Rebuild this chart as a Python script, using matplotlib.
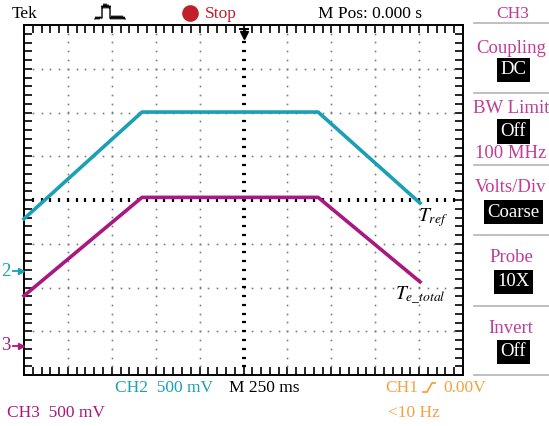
import numpy as np
import matplotlib.pyplot as plt
from matplotlib.lines import Line2D
from matplotlib.ticker import MultipleLocator

plt.rcParams['font.family'] = ['Liberation Serif', 'DejaVu Serif']
plt.rcParams['mathtext.fontset'] = 'stix'

W, H = 549, 426

MS_PER_DIV = 250     # M 250 ms
V_PER_DIV = 0.5      # CH2 / CH3 500 mV

# corner points of the two traces: time from trigger (ms), level (V)
t_ms = [-1250, -578, 425, 1005]
tref_v = [0.595, 1.815, 1.815, 0.775]
te_total_v = [0.575, 1.70, 1.70, 0.735]

# ground marker of each channel, divisions from screen centre
ch2_offset = -1.62
ch3_offset = -3.34

CYAN = '#1a9fb5'
MAGENTA = '#a8187e'
MENU = '#c03c98'
ORANGE = '#f4a143'
RED = '#c01f2b'

fig = plt.figure(figsize=(W / 100, H / 100), dpi=100)
fig.patch.set_facecolor('white')


def put(x, y, s, **kw):
    # place text using pixel coordinates measured from the top-left corner
    kw.setdefault('fontsize', 12.5)
    return fig.text(x / W, 1 - y / H, s, **kw)


def pline(xs, ys, **kw):
    fig.add_artist(Line2D([x / W for x in xs], [1 - y / H for y in ys],
                          transform=fig.transFigure, **kw))


def pmark(x, y, **kw):
    fig.add_artist(Line2D([x / W], [1 - y / H], transform=fig.transFigure,
                          **kw))


ax = fig.add_axes([24 / W, 51 / H, 439 / W, 350 / H])
ax.set_xlim(-5, 5)
ax.set_ylim(-4, 4)
for sp in ax.spines.values():
    sp.set_linewidth(1.4)
ax.xaxis.set_major_locator(MultipleLocator(1))
ax.xaxis.set_minor_locator(MultipleLocator(0.2))
ax.yaxis.set_major_locator(MultipleLocator(1))
ax.yaxis.set_minor_locator(MultipleLocator(0.2))
ax.tick_params(which='both', direction='in', length=6, width=1.2,
               top=True, right=True, labelbottom=False, labelleft=False)

# graticule: dotted lines every division, tick marks on the centre lines
fine = np.arange(-5, 5.001, 0.2)
fine_y = np.arange(-4, 4.001, 0.2)
for k in range(-4, 5):
    if k != 0:
        ax.plot(np.full_like(fine_y, k), fine_y, ls='none', marker='s',
                ms=1.2, color='#7a7a7a', mew=0)
for k in range(-3, 4):
    if k != 0:
        ax.plot(fine, np.full_like(fine, k), ls='none', marker='s',
                ms=1.2, color='#7a7a7a', mew=0)
ax.plot(fine, np.zeros_like(fine), ls='none', marker='|', ms=3.2,
        mew=1.6, color='black')
ax.plot(np.zeros_like(fine_y), fine_y, ls='none', marker='_', ms=3.2,
        mew=1.6, color='black')

# traces
x_div = np.array(t_ms) / MS_PER_DIV
ax.plot(x_div, np.array(tref_v) / V_PER_DIV + ch2_offset, color=CYAN,
        lw=2.6, solid_joinstyle='round', clip_on=False, zorder=5)
ax.plot(x_div, np.array(te_total_v) / V_PER_DIV + ch3_offset, color=MAGENTA,
        lw=2.6, solid_joinstyle='round', clip_on=False, zorder=5)

ax.text(x_div[-1] - 0.04, tref_v[-1] / V_PER_DIV + ch2_offset - 0.08,
        r'$T_{ref}$', fontsize=14, va='top', ha='left')
ax.text(x_div[-1] + 0.58, te_total_v[-1] / V_PER_DIV + ch3_offset - 0.08,
        r'$T_{e\_total}$', fontsize=14, va='top', ha='right')

# trigger position marker at top of screen
pline([243.5, 243.5], [29, 34], color='black', lw=1.8)
pline([239.5, 247.5], [29, 29], color='black', lw=1.4)
pmark(243.5, 35, marker='v', ms=6, color='black')

# channel ground markers
put(10, 271, '2', color=CYAN, ha='right', va='center', fontsize=13.5)
pline([13, 21], [271, 271], color=CYAN, lw=1.3)
pmark(21, 271, marker='>', ms=5, color=CYAN)
put(10, 346, '3', color=MAGENTA, ha='right', va='center', fontsize=13.5)
pline([13, 21], [346, 346], color=MAGENTA, lw=1.3)
pmark(21, 346, marker='>', ms=5, color=MAGENTA)

# header
put(12, 18, 'Tek', va='baseline')
wave_x = [95, 96, 97, 98, 99, 100, 101, 102, 102, 103, 104, 105, 106, 107,
          108, 109, 110, 110, 111, 112, 113, 114, 115, 116, 117, 118, 119,
          120, 121, 122, 123, 124, 125]
wave_y = [19, 17, 19, 17, 19, 17, 18, 18, 6, 8, 4, 8, 4, 8, 5, 8, 6, 18,
          19, 16, 19, 16, 19, 16, 19, 16, 19, 16, 19, 16, 19, 17, 19]
pline(wave_x, wave_y, color='black', lw=1.0)
pmark(190, 13, marker='o', ms=12, color=RED, mew=0)
put(205, 18, 'Stop', color=RED, va='baseline')
put(318, 18, 'M Pos: 0.000 s', va='baseline')
put(513, 17.5, 'CH3', color=MENU, ha='center', va='baseline')

# side menu
for y in [23, 93, 165, 235, 306, 375]:
    pline([474, 549], [y, y], color='#b4b4b4', lw=1.2)

MENU_FS = 13.5


def menu_label(y, s):
    put(511, y, s, color=MENU, ha='center', va='baseline', fontsize=MENU_FS)


def menu_box(y, s):
    put(513.5, y, s, color='white', ha='center', va='center',
        fontsize=MENU_FS,
        bbox=dict(boxstyle='square,pad=0.2', fc='black', ec='none'))


menu_label(53, 'Coupling')
menu_box(70, 'DC')
menu_label(113, 'BW Limit')
menu_box(131.5, 'Off')
menu_label(158, '100 MHz')
menu_label(192, 'Volts/Div')
menu_box(212, 'Coarse')
menu_label(262, 'Probe')
menu_box(282, '10X')
menu_label(333, 'Invert')
menu_box(352, 'Off')

# footer
put(115, 392, 'CH2  500 mV', color=CYAN, va='baseline')
put(229, 392, 'M 250 ms', va='baseline')
put(385, 392, 'CH1', color=ORANGE, va='baseline')
pline([423, 427, 432, 435], [392, 392, 383, 383], color=ORANGE, lw=1.3)
put(443, 392, '0.00V', color=ORANGE, va='baseline')
put(7, 417, 'CH3  500 mV', color=MAGENTA, va='baseline')
put(388, 417, '<10 Hz', color=ORANGE, va='baseline')

fig.savefig('out.png', dpi=100)
